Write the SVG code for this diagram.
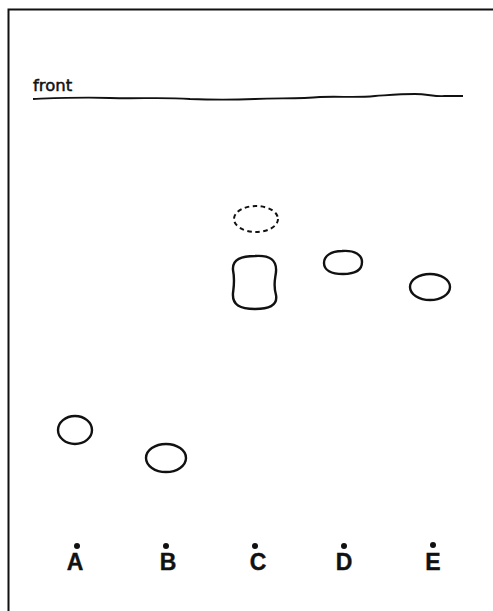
<svg xmlns="http://www.w3.org/2000/svg" width="493" height="611" viewBox="0 0 493 611">
<style>
.spot{fill:none;stroke:#111;stroke-width:2.4;stroke-linejoin:round}
.dash{stroke-dasharray:4.5 3.5;stroke-width:2}
.lbl{font-family:"Liberation Sans","DejaVu Sans",sans-serif;font-weight:bold;font-size:23px;fill:#111;text-anchor:middle;stroke:#111;stroke-width:0.4}
.dot{fill:#111}
</style>
<rect width="493" height="611" fill="#fff"/>
<g id="frame" fill="none" stroke="#111" stroke-width="2">
<path d="M8.5,611 L8.5,9.5 L493,9.5"/>
</g>
<g id="front">
<text x="33" y="91" font-family="DejaVu Sans, sans-serif" font-size="16.5" fill="#111" stroke="#111" stroke-width="0.5">front</text>
<path d="M33,99 C60,98 80,97 110,98 C140,99 160,97 190,99 C215,100 230,100 255,99 C280,98 300,99 320,97 C340,96 355,98 375,96 C390,95 400,94 415,94 C428,94 435,97 445,96 C452,96 458,96 463,96" fill="none" stroke="#111" stroke-width="1.8"/>
</g>
<g id="spot-C-upper"><ellipse class="spot dash" cx="256" cy="219" rx="22" ry="13"/></g>
<g id="spot-A"><ellipse class="spot" cx="75" cy="430" rx="17" ry="14"/></g>
<g id="spot-B"><ellipse class="spot" cx="166" cy="458" rx="20" ry="14"/></g>
<g id="spot-C"><path class="spot" d="M255,256 C270,255 277,260 276,272 C275,280 273,285 276,295 C278,306 268,309 255,309 C240,309 232,305 233,293 C234,285 235,280 233,270 C232,259 242,256 255,256 Z"/></g>
<g id="spot-D"><path class="spot" d="M342,251 C355,250 362,255 362,262 C362,270 355,274 343,274 C331,274 324,270 324,263 C324,256 331,251 342,251 Z"/></g>
<g id="spot-E"><ellipse class="spot" cx="430" cy="287" rx="20" ry="13"/></g>
<g id="label-A"><circle class="dot" cx="77" cy="546" r="3"/><text class="lbl" x="75" y="570">A</text></g>
<g id="label-B"><circle class="dot" cx="166" cy="546" r="3"/><text class="lbl" x="168" y="570">B</text></g>
<g id="label-C"><circle class="dot" cx="255" cy="546" r="3"/><text class="lbl" x="258" y="570">C</text></g>
<g id="label-D"><circle class="dot" cx="344" cy="546" r="3"/><text class="lbl" x="344" y="570">D</text></g>
<g id="label-E"><circle class="dot" cx="433" cy="545" r="3"/><text class="lbl" x="433" y="570">E</text></g>
</svg>
